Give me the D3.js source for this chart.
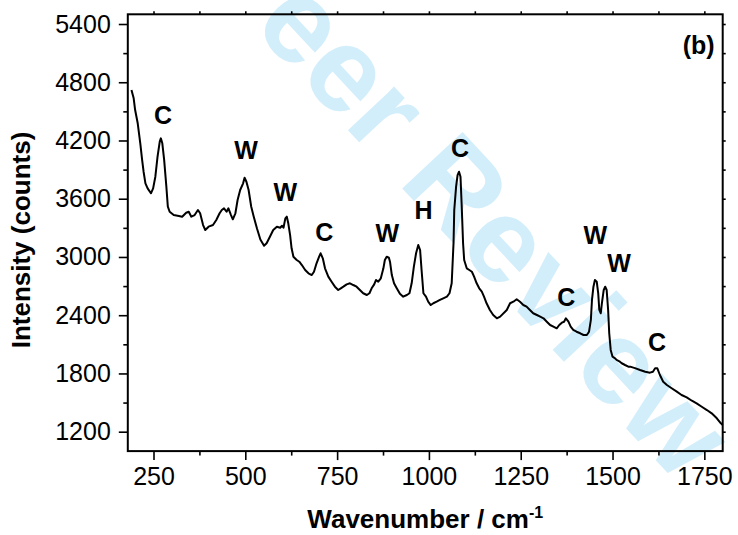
<!DOCTYPE html>
<html>
<head>
<meta charset="utf-8">
<script src="https://cdn.jsdelivr.net/npm/d3@7"></script>
<style>
  body { margin: 0; background: #fff; }
  text { font-family: Arial, "Liberation Sans", sans-serif; }
</style>
</head>
<body>
<svg id="chart"></svg>
<script>
// Raman spectrum, panel (b)
const wavenumber = [190, 196, 200, 207, 214, 219, 223, 228, 234, 243, 249, 255, 261, 267, 270, 274, 279, 285, 289, 294,
  305, 319, 328, 339, 346, 353, 362, 371, 377, 385, 391, 400, 412, 421, 430, 436, 442, 449, 454, 461,
  466, 473, 479, 486, 494, 498, 503, 509, 516, 523, 532, 541, 551, 558, 567, 576, 586, 595, 600, 604,
  609, 613, 617, 622, 626, 631, 640, 647, 654, 663, 672, 681, 687, 694, 701, 705, 711, 717, 726, 735,
  744, 753, 760, 767, 776, 785, 794, 803, 812, 821, 831, 838, 844, 851, 856, 862, 869, 876, 880, 885,
  891, 894, 899, 905, 912, 921, 930, 940, 947, 953, 959, 965, 971, 976, 980, 985, 992, 998, 1005, 1012,
  1021, 1030, 1039, 1049, 1056, 1062, 1067, 1069, 1074, 1078, 1082, 1086, 1089, 1093, 1096, 1103, 1110, 1117, 1123, 1130,
  1137, 1144, 1150, 1157, 1166, 1175, 1185, 1194, 1212, 1221, 1230, 1239, 1248, 1257, 1266, 1275, 1284, 1294, 1303, 1312,
  1321, 1330, 1339, 1348, 1355, 1362, 1368, 1373, 1380, 1386, 1393, 1402, 1412, 1421, 1430, 1436, 1441, 1444, 1448, 1452,
  1457, 1461, 1464, 1468, 1471, 1476, 1480, 1484, 1488, 1491, 1495, 1500, 1507, 1511, 1520, 1525, 1534, 1543, 1548, 1561,
  1575, 1589, 1602, 1610, 1616, 1622, 1629, 1638, 1648, 1661, 1675, 1688, 1702, 1716, 1729, 1743, 1757, 1770, 1784, 1795, 1800];
const intensity = [4720, 4634, 4514, 4377, 4171, 4000, 3878, 3759, 3707, 3656, 3707, 3827, 4033, 4188, 4222, 4171, 4000, 3724, 3518, 3466,
  3432, 3422, 3415, 3456, 3466, 3415, 3432, 3484, 3450, 3329, 3278, 3312, 3329, 3381, 3450, 3484, 3501, 3466, 3501, 3432,
  3388, 3450, 3587, 3690, 3759, 3817, 3775, 3690, 3520, 3415, 3290, 3180, 3115, 3141, 3209, 3278, 3312, 3301, 3322, 3301,
  3398, 3415, 3347, 3226, 3089, 3003, 2969, 2951, 2917, 2866, 2832, 2814, 2848, 2935, 3003, 3038, 2986, 2883, 2797, 2745,
  2694, 2660, 2677, 2694, 2718, 2729, 2711, 2694, 2660, 2626, 2608, 2626, 2677, 2718, 2763, 2745, 2780, 2883, 2969, 3003,
  2992, 2951, 2814, 2729, 2680, 2620, 2591, 2608, 2626, 2729, 2900, 3038, 3123, 3072, 2866, 2626, 2591, 2539, 2505, 2523,
  2539, 2557, 2574, 2591, 2626, 2729, 3141, 3484, 3724, 3844, 3878, 3827, 3553, 3141, 2969, 2883, 2866, 2848, 2797, 2729,
  2677, 2642, 2591, 2523, 2454, 2402, 2368, 2385, 2454, 2523, 2539, 2564, 2539, 2505, 2488, 2454, 2420, 2402, 2385, 2368,
  2333, 2299, 2282, 2265, 2299, 2323, 2333, 2368, 2333, 2282, 2248, 2230, 2214, 2196, 2196, 2230, 2351, 2557, 2694, 2763,
  2745, 2626, 2454, 2420, 2523, 2660, 2694, 2660, 2454, 2214, 2042, 1973, 1956, 1939, 1921, 1905, 1887, 1870, 1870, 1855,
  1835, 1818, 1808, 1818, 1853, 1853, 1784, 1715, 1681, 1647, 1612, 1578, 1554, 1519, 1492, 1457, 1423, 1389, 1338, 1286, 1269];

// peak assignments (letter, position, label height)
const peakLabels = ["C", "W", "W", "C", "W", "H", "C", "C", "W", "W", "C"];
const peakX = [276, 502, 609, 715, 887, 985, 1085, 1374, 1453, 1518, 1621];
const peakY = [4462, 4101, 3668, 3256, 3246, 3483, 4122, 2587, 3226, 2937, 2123];

const xTicks = [250, 500, 750, 1000, 1250, 1500, 1750];
const yTicks = [1200, 1800, 2400, 3000, 3600, 4200, 4800, 5400];

const width = 738;
const height = 535;
const margin = {top: 14.3, right: 15.3, bottom: 83.9, left: 127.8};

const svg = d3.select('#chart')
  .attr('width', width)
  .attr('height', height);

// watermark behind everything
svg.append('text')
  .attr('transform', 'translate(42,-198) rotate(47)')
  .attr('font-size', 120)
  .attr('font-weight', 'bold')
  .attr('fill', '#d3eefb')
  .text('For Peer Review');

const x = d3.scaleLinear()
  .domain([180, 1800])
  .range([margin.left, width - margin.right]);

const y = d3.scaleLinear()
  .domain([1000, 5500])
  .range([height - margin.bottom, margin.top]);

const minorX = d3.range(375, 1800, 250);
const minorY = d3.range(1500, 5500, 600);

function styleAxis(g) {
  g.selectAll('.domain').remove();
  g.selectAll('line').attr('stroke', '#000').attr('stroke-width', 1.6);
  g.selectAll('text').attr('font-size', 25).attr('fill', '#000');
}

// bottom axis
svg.append('g')
  .attr('transform', `translate(0,${y.range()[0]})`)
  .call(d3.axisBottom(x).tickValues(xTicks).tickSize(9).tickPadding(7).tickFormat(d3.format('d')))
  .call(styleAxis);
svg.append('g')
  .attr('transform', `translate(0,${y.range()[0]})`)
  .call(d3.axisBottom(x).tickValues(minorX).tickSize(4.5).tickFormat(''))
  .call(styleAxis);

// left axis
svg.append('g')
  .attr('transform', `translate(${x.range()[0]},0)`)
  .call(d3.axisLeft(y).tickValues(yTicks).tickSize(9).tickPadding(8).tickFormat(d3.format('d')))
  .call(styleAxis);
svg.append('g')
  .attr('transform', `translate(${x.range()[0]},0)`)
  .call(d3.axisLeft(y).tickValues(minorY).tickSize(4.5).tickFormat(''))
  .call(styleAxis);

// mirror ticks on top and right
svg.append('g')
  .attr('transform', `translate(0,${y.range()[1]})`)
  .call(d3.axisTop(x).tickValues(xTicks.concat(minorX)).tickSize(3).tickFormat(''))
  .call(styleAxis);
svg.append('g')
  .attr('transform', `translate(${x.range()[1]},0)`)
  .call(d3.axisRight(y).tickValues(yTicks.concat(minorY)).tickSize(3).tickFormat(''))
  .call(styleAxis);

// frame
svg.append('rect')
  .attr('x', x.range()[0])
  .attr('y', y.range()[1])
  .attr('width', x.range()[1] - x.range()[0])
  .attr('height', y.range()[0] - y.range()[1])
  .attr('fill', 'none')
  .attr('stroke', '#000')
  .attr('stroke-width', 2);

const points = wavenumber.map((w, i) => [w, intensity[i]]);

svg.append('path')
  .datum(points)
  .attr('fill', 'none')
  .attr('stroke', '#000')
  .attr('stroke-width', 2)
  .attr('stroke-linejoin', 'round')
  .attr('d', d3.line().x(d => x(d[0])).y(d => y(d[1])));

svg.append('g')
  .selectAll('text')
  .data(peakLabels)
  .join('text')
    .attr('x', (d, i) => x(peakX[i]))
    .attr('y', (d, i) => y(peakY[i]))
    .attr('dy', '0.36em')
    .attr('text-anchor', 'middle')
    .attr('font-size', 25)
    .attr('font-weight', 'bold')
    .text(d => d);

svg.append('text')
  .attr('x', x.range()[1] - 8)
  .attr('y', y.range()[1] + 40)
  .attr('text-anchor', 'end')
  .attr('font-size', 25)
  .attr('font-weight', 'bold')
  .text('(b)');

// axis titles
const xTitle = svg.append('text')
  .attr('x', (x.range()[0] + x.range()[1]) / 2)
  .attr('y', 528)
  .attr('text-anchor', 'middle')
  .attr('font-size', 26)
  .attr('font-weight', 'bold');
xTitle.append('tspan').text('Wavenumber / cm');
xTitle.append('tspan').attr('dy', -10).attr('font-size', 16).text('-1');

svg.append('text')
  .attr('transform', 'translate(30,240) rotate(-90)')
  .attr('text-anchor', 'middle')
  .attr('font-size', 26)
  .attr('font-weight', 'bold')
  .text('Intensity (counts)');
</script>
</body>
</html>
